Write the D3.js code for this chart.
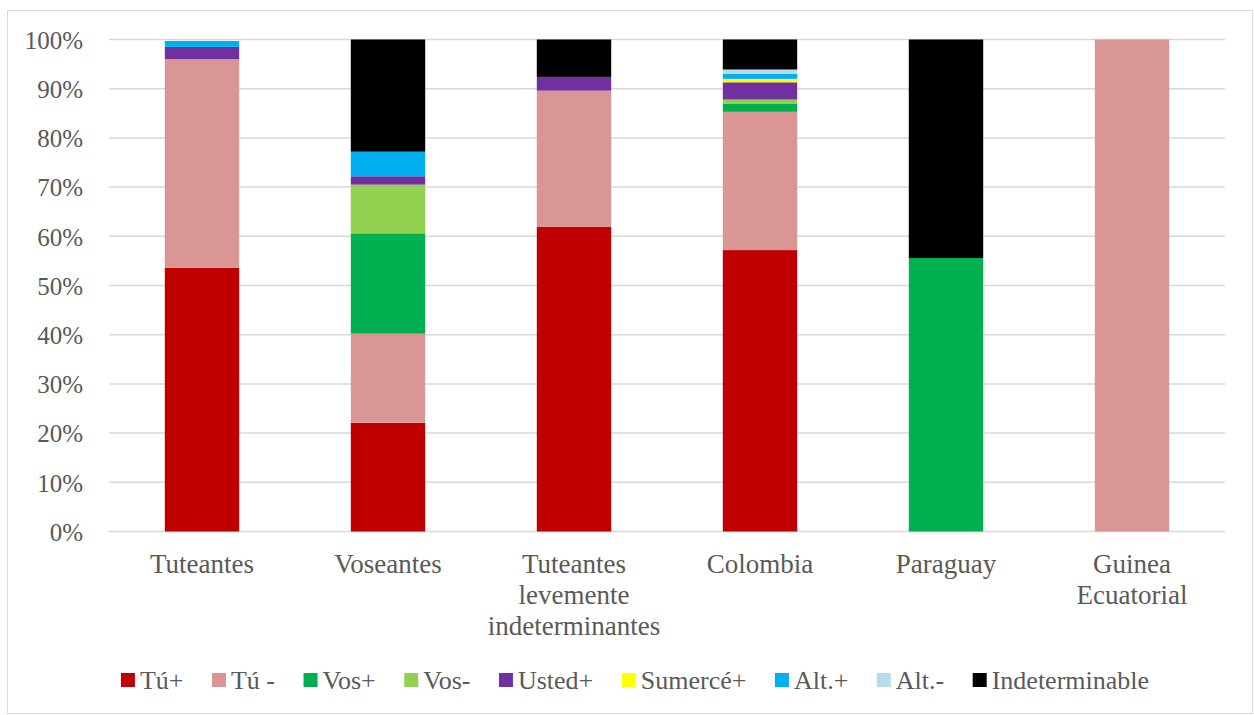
<!DOCTYPE html>
<html>
<head>
<meta charset="utf-8">
<script src="https://cdn.jsdelivr.net/npm/d3@7"></script>
<style>
  html, body { margin: 0; padding: 0; background: #fff; }
  svg { display: block; font-family: "Liberation Serif", "Times New Roman", serif; }
</style>
</head>
<body>
<svg id="chart" width="1254" height="715"></svg>
<script>
// Categories (multi-line labels)
const categories = ["Tuteantes", "Voseantes", "Tuteantes levemente indeterminantes", "Colombia", "Paraguay", "Guinea Ecuatorial"];
const categoryLines = [["Tuteantes"], ["Voseantes"], ["Tuteantes", "levemente", "indeterminantes"], ["Colombia"], ["Paraguay"], ["Guinea", "Ecuatorial"]];

// Series (percent per category)
const seriesNames = ["Tú+", "Tú -", "Vos+", "Vos-", "Usted+", "Sumercé+", "Alt.+", "Alt.-", "Indeterminable"];
const tuMas          = [53.6, 22.1, 61.9, 57.2, 0, 0];
const tuMenos        = [42.4, 18.1, 27.7, 28.1, 0, 100];
const vosMas         = [0, 20.4, 0, 1.7, 55.6, 0];
const vosMenos       = [0, 9.9, 0, 0.8, 0, 0];
const ustedMas       = [2.5, 1.7, 2.8, 3.5, 0, 0];
const sumerceMas     = [0, 0, 0, 0.7, 0, 0];
const altMas         = [1.2, 5.0, 0, 1.0, 0, 0];
const altMenos       = [0, 0, 0, 0.9, 0, 0];
const indeterminable = [0, 22.8, 7.6, 6.1, 44.4, 0];

const yTicks = [0, 10, 20, 30, 40, 50, 60, 70, 80, 90, 100];
const colors = ["#C00000", "#DA9694", "#00B050", "#92D050", "#7030A0", "#FFFF00", "#00B0F0", "#B7DEE8", "#000000"];

const seriesValues = [tuMas, tuMenos, vosMas, vosMenos, ustedMas, sumerceMas, altMas, altMenos, indeterminable];
const rows = categories.map((c, i) => {
  const r = { category: c };
  seriesNames.forEach((s, k) => { r[s] = seriesValues[k][i]; });
  return r;
});

const svg = d3.select("#chart");
const plot = { left: 109, right: 1225, top: 39.5, bottom: 531.5 };
const textColor = "#595959";

// Outer chart border
svg.append("rect")
  .attr("x", 7.5).attr("y", 10.5)
  .attr("width", 1245).attr("height", 703)
  .attr("fill", "#fff").attr("stroke", "#D9D9D9").attr("stroke-width", 1);

const x = d3.scaleBand().domain(categories).range([plot.left, plot.right]).paddingInner(0.6).paddingOuter(0.3);
const y = d3.scaleLinear().domain([0, 100]).range([plot.bottom, plot.top]);

// Gridlines
svg.append("g").selectAll("line").data(yTicks).join("line")
  .attr("x1", plot.left).attr("x2", plot.right)
  .attr("y1", d => y(d)).attr("y2", d => y(d))
  .attr("stroke", "#D9D9D9").attr("stroke-width", 1.5);

// Y axis labels
const yAxis = d3.axisLeft(y).tickValues(yTicks).tickFormat(d => d + "%").tickSize(0).tickPadding(26);
const yg = svg.append("g").attr("transform", `translate(${plot.left},0)`).call(yAxis);
yg.select(".domain").remove();
yg.selectAll("text")
  .attr("fill", textColor)
  .style("font-family", "Liberation Serif, Times New Roman, serif")
  .style("font-size", "25px")
  .attr("dy", "0.35em");

// Stacked bars
const stack = d3.stack().keys(seriesNames);
const layers = stack(rows);
svg.append("g").selectAll("g").data(layers).join("g")
  .attr("fill", (d, i) => colors[i])
  .selectAll("rect").data(d => d).join("rect")
  .attr("x", d => x(d.data.category))
  .attr("width", x.bandwidth())
  .attr("y", d => y(d[1]))
  .attr("height", d => Math.max(0, y(d[0]) - y(d[1])));

// Category labels
const cx = svg.append("g");
categories.forEach((c, i) => {
  const t = cx.append("text")
    .attr("x", x(c) + x.bandwidth() / 2)
    .attr("y", 573)
    .attr("text-anchor", "middle")
    .attr("fill", textColor)
    .style("font-size", "27px");
  categoryLines[i].forEach((ln, j) => {
    t.append("tspan").attr("x", x(c) + x.bandwidth() / 2).attr("dy", j === 0 ? 0 : 31).text(ln);
  });
});

// Legend
const legend = svg.append("g");
const items = seriesNames.map((s, i) => {
  const g = legend.append("g");
  g.append("rect").attr("width", 14).attr("height", 14).attr("y", -7).attr("fill", colors[i]);
  const t = g.append("text").attr("x", 19).attr("dy", "0.35em")
    .attr("fill", textColor).style("font-size", "26px").text(s);
  return { g, w: 19 + t.node().getComputedTextLength() };
});
const gap = 28.5;
const total = d3.sum(items, d => d.w) + gap * (items.length - 1);
let lx = 635 - total / 2;
items.forEach(it => {
  it.g.attr("transform", `translate(${lx},680)`);
  lx += it.w + gap;
});
</script>
</body>
</html>
